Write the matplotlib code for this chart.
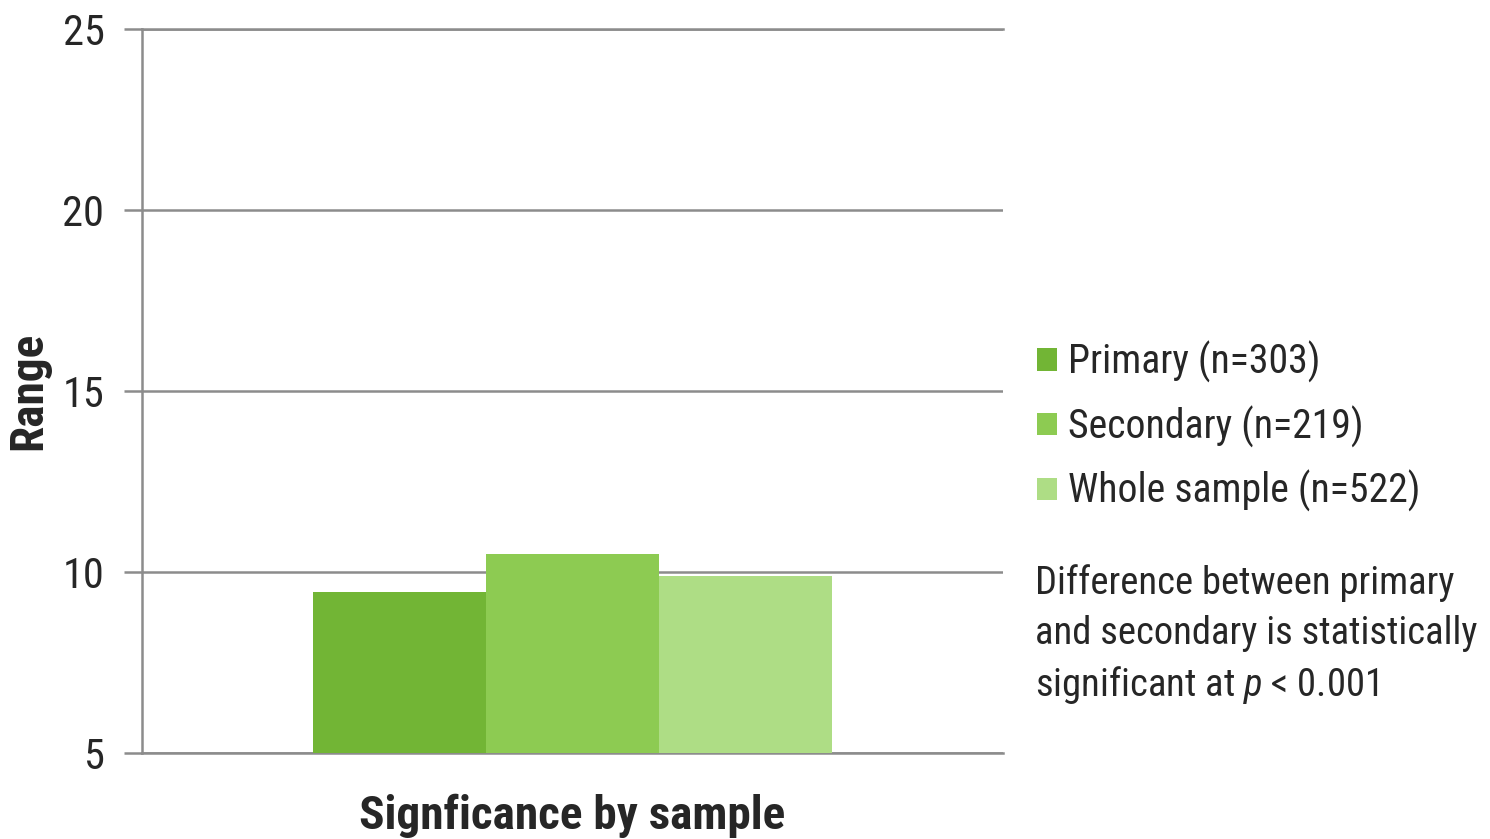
import matplotlib
matplotlib.use('Agg')
import matplotlib.pyplot as plt
from matplotlib.patches import Patch

# --- dados ---
categoria = ['Signficance by sample']
series = ['Primary (n=303)', 'Secondary (n=219)', 'Whole sample (n=522)']
valores = [9.45, 10.5, 9.88]
cores = ['#72b535', '#8dcb52', '#aedd85']
yticks = [5, 10, 15, 20, 25]
nota = ['Difference between primary', 'and secondary is statistically',
        r'significant at $\mathit{p}$ < 0.001']

fonte = ['Roboto Condensed', 'Liberation Sans Narrow', 'Roboto']
plt.rcParams['font.family'] = fonte
plt.rcParams['mathtext.fontset'] = 'custom'
plt.rcParams['mathtext.it'] = 'Roboto Condensed:italic'
plt.rcParams['mathtext.rm'] = 'Roboto Condensed'

fig = plt.figure(figsize=(14.9, 8.39), dpi=100)
ax = fig.add_axes([0.0953, 0.1025, 0.5779, 0.8629])

largura = 0.201
for i, (nome, v, c) in enumerate(zip(series, valores, cores)):
    x = (i - 1) * largura
    ax.bar(x, v - yticks[0], bottom=yticks[0], width=largura, color=c, label=nome, zorder=3)

ax.set_xlim(-0.5, 0.5)
ax.set_ylim(yticks[0], yticks[-1])
ax.set_yticks(yticks)
ax.set_xticks([])
ax.grid(axis='y', color='#8c8c8c', linewidth=1.8, zorder=0)
ax.spines['right'].set_visible(False)
for s in ['left', 'top', 'bottom']:
    ax.spines[s].set_color('#8c8c8c')
    ax.spines[s].set_linewidth(1.8)
ax.tick_params(axis='y', length=13, width=1.8, color='#8c8c8c', labelsize=30.5,
               labelcolor='#262626', pad=14)

ax.set_ylabel('Range', fontsize=34, fontweight='bold', color='#262626')
ax.yaxis.set_label_coords(-0.107, 0.5)
ax.set_xlabel(categoria[0], fontsize=34, fontweight='bold', color='#262626', labelpad=29)

handles = [Patch(facecolor=c, edgecolor='none') for c in cores]
fig.legend(handles, series, loc='upper left', bbox_to_anchor=(0.696, 0.594),
           frameon=False, fontsize=28.6, handlelength=0.5, handleheight=0.5,
           handletextpad=0.28, labelspacing=0.57, labelcolor='#262626',
           borderaxespad=0, borderpad=0)

for k, linha in enumerate(nota):
    fig.text(1035 / 1490, 1 - (583 + 51 * k) / 839, linha, fontsize=27.8,
             color='#262626', ha='left', va='center')

fig.savefig('out.png', dpi=100)
